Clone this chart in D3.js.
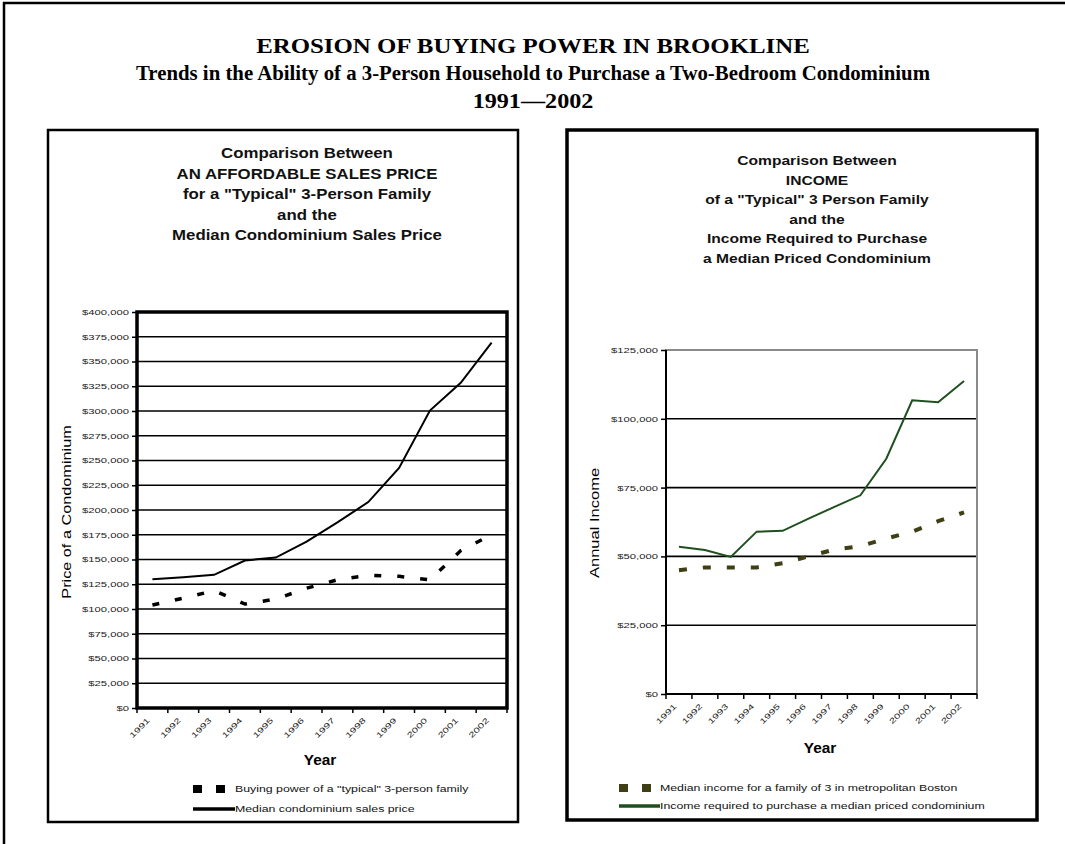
<!DOCTYPE html>
<html>
<head>
<meta charset="utf-8">
<script src="https://cdn.jsdelivr.net/npm/d3@7"></script>
<style>
  body { margin: 0; background: #fff; }
  svg { display: block; }
</style>
</head>
<body>
<svg width="1065" height="844"></svg>
<script>
const years = ["1991", "1992", "1993", "1994", "1995", "1996", "1997", "1998", "1999", "2000", "2001", "2002"]

// left chart: sales prices
const affordablePrice = [104000, 111000, 118500, 105000, 110000, 121000, 129500, 134000, 133000, 129500, 159000, 175000]
const medianCondoPrice = [130000, 132000, 134500, 149000, 152000, 168000, 187500, 208000, 242500, 300500, 328500, 369000]
const priceTicks = [0, 25000, 50000, 75000, 100000, 125000, 150000, 175000, 200000, 225000, 250000, 275000, 300000, 325000, 350000, 375000, 400000]

// right chart: incomes
const medianIncome = [45000, 46000, 46000, 46000, 47500, 50000, 52500, 53700, 56500, 59000, 62800, 66000]
const requiredIncome = [53500, 52300, 49800, 59000, 59300, 63700, 68000, 72200, 85500, 106700, 106000, 113700]
const incomeTicks = [0, 25000, 50000, 75000, 100000, 125000]

const titleLines = ["EROSION OF BUYING POWER IN BROOKLINE",
  "Trends in the Ability of a 3-Person Household to Purchase a Two-Bedroom Condominium",
  "1991\u20142002"]
const leftTitle = ["Comparison Between", "AN AFFORDABLE SALES PRICE", "for a \"Typical\" 3-Person Family", "and the", "Median Condominium Sales Price"]
const rightTitle = ["Comparison Between", "INCOME", "of a \"Typical\" 3 Person Family", "and the", "Income Required to Purchase", "a Median Priced Condominium"]

var svg = d3.select("svg")
var sans = "Liberation Sans, Arial, sans-serif"
var money = d => "$" + d3.format(",")(d)

// the scanned text is stretched sideways, so widen it
function widen(sel, k) {
  sel.each(function() {
    var w = this.getComputedTextLength()
    d3.select(this).attr("textLength", w * k).attr("lengthAdjust", "spacingAndGlyphs")
  })
}

// page frame
svg.append("line").attr("x1", 4).attr("x2", 4).attr("y1", 2).attr("y2", 844).attr("stroke", "#000").attr("stroke-width", 2.5)
svg.append("line").attr("x1", 3).attr("x2", 1065).attr("y1", 3).attr("y2", 3).attr("stroke", "#000").attr("stroke-width", 2.5)

var heads = svg.append("g").selectAll("text")
  .data(titleLines)
  .enter().append("text")
    .attr("x", 533)
    .attr("y", (d, i) => [53, 80, 108][i])
    .attr("text-anchor", "middle")
    .attr("font-family", "Liberation Serif, Times New Roman, serif")
    .attr("font-weight", "bold")
    .attr("font-size", (d, i) => [22, 20, 21][i])
    .text(d => d)
widen(heads.filter((d, i) => i == 0), 1.13)
widen(heads.filter((d, i) => i == 1), 1.04)
widen(heads.filter((d, i) => i == 2), 1.15)

function drawPanel(p) {
  var g = svg.append("g")

  g.append("rect")
    .attr("x", p.box[0]).attr("y", p.box[1])
    .attr("width", p.box[2] - p.box[0]).attr("height", p.box[3] - p.box[1])
    .attr("fill", "none").attr("stroke", "#000").attr("stroke-width", p.boxStroke)

  var title = g.append("g").selectAll("text")
    .data(p.title)
    .enter().append("text")
      .attr("x", p.titleX)
      .attr("y", (d, i) => p.titleY + i * p.titleStep)
      .attr("text-anchor", "middle")
      .attr("font-family", sans)
      .attr("font-weight", "bold")
      .attr("font-size", p.titleSize)
      .attr("fill", "#111")
      .text(d => d)
  widen(title, 1.2)

  var x = d3.scaleBand().domain(years).range([p.left, p.right])
  var y = d3.scaleLinear().domain([0, p.ticks[p.ticks.length - 1]]).range([p.bottom, p.top])

  g.append("g").selectAll("line")
    .data(p.ticks.slice(1, -1))
    .enter().append("line")
      .attr("x1", p.left).attr("x2", p.right)
      .attr("y1", d => y(d)).attr("y2", d => y(d))
      .attr("stroke", "#000").attr("stroke-width", 1.6)

  if (p.frame == "heavy") {
    g.append("rect")
      .attr("x", p.left).attr("y", p.top)
      .attr("width", p.right - p.left).attr("height", p.bottom - p.top)
      .attr("fill", "none").attr("stroke", "#000").attr("stroke-width", 3.5)
  } else {
    g.append("rect")
      .attr("x", p.left).attr("y", p.top)
      .attr("width", p.right - p.left).attr("height", p.bottom - p.top)
      .attr("fill", "none").attr("stroke", "#8a8a8a").attr("stroke-width", 2)
    g.append("path")
      .attr("d", "M" + p.left + "," + p.top + "V" + p.bottom + "H" + p.right)
      .attr("fill", "none").attr("stroke", "#000").attr("stroke-width", 2)
  }

  var ya = g.append("g")
    .attr("transform", "translate(" + p.left + ",0)")
    .call(d3.axisLeft(y).tickValues(p.ticks).tickSize(5).tickPadding(3).tickFormat(money))
  ya.select(".domain").remove()
  ya.selectAll("line").attr("stroke", "#000").attr("stroke-width", 1.5)
  ya.selectAll("text").attr("font-family", sans).attr("font-size", 7.5).attr("fill", "#222")
  widen(ya.selectAll("text"), 1.5)

  // x ticks sit on the category edges
  g.append("g").selectAll("line")
    .data(years.map(d => x(d)).concat([p.right]))
    .enter().append("line")
      .attr("x1", d => d).attr("x2", d => d)
      .attr("y1", p.bottom).attr("y2", p.bottom + 5)
      .attr("stroke", "#000").attr("stroke-width", 1.5)

  var xl = g.append("g").selectAll("text")
    .data(years)
    .enter().append("text")
      .attr("transform", d => "translate(" + (x(d) + x.bandwidth() / 2 - 4) + "," + (p.bottom + 11) + ") rotate(-45)")
      .attr("text-anchor", "end")
      .attr("dy", "0.35em")
      .attr("font-family", sans)
      .attr("font-size", 7.5)
      .attr("fill", "#222")
      .text(d => d)
  widen(xl, 1.5)

  var yearLabel = g.append("text")
    .attr("x", p.yearX).attr("y", p.yearY)
    .attr("text-anchor", "middle")
    .attr("font-family", sans).attr("font-weight", "bold").attr("font-size", 14)
    .text("Year")
  widen(yearLabel, 1.1)

  var yLabel = g.append("text")
    .attr("transform", "translate(" + p.yLabelX + "," + p.yLabelY + ") rotate(-90)")
    .attr("text-anchor", "middle")
    .attr("font-family", sans).attr("font-size", 13)
    .text(p.yLabel)
  widen(yLabel, p.yLabelWiden)

  var line = d3.line()
    .x((d, i) => x(years[i]) + x.bandwidth() / 2)
    .y(d => y(d))

  p.series.forEach(function(s) {
    g.append("path")
      .datum(s.values)
      .attr("d", line)
      .attr("fill", "none")
      .attr("stroke", s.color)
      .attr("stroke-width", s.dash ? s.width : 2)
      .attr("stroke-dasharray", s.dash || null)
  })

  var legend = g.append("g")
    .selectAll("g")
    .data(p.series)
    .enter().append("g")
      .attr("transform", (d, i) => "translate(" + p.legendX + "," + (p.legendY + i * p.legendStep) + ")")

  legend.append("line")
    .attr("x1", 0).attr("x2", d => d.dash ? 34 : p.legendText)
    .attr("stroke", d => d.color)
    .attr("stroke-width", d => d.dash ? 8 : 3.5)
    .attr("stroke-dasharray", d => d.dash ? "9,14" : null)

  var lt = legend.append("text")
    .attr("x", p.legendText)
    .attr("dy", "0.35em")
    .attr("font-family", sans)
    .attr("font-size", 8.5)
    .attr("fill", "#111")
    .text(d => d.name)
  widen(lt, 1.45)
}

drawPanel({
  box: [48, 130, 518, 822], boxStroke: 2.5,
  title: leftTitle, titleX: 307, titleY: 158, titleStep: 20.5, titleSize: 14,
  left: 137, right: 507, top: 312, bottom: 708,
  ticks: priceTicks, frame: "heavy",
  yearX: 320, yearY: 765,
  yLabel: "Price of a Condominium", yLabelX: 71, yLabelY: 512, yLabelWiden: 1.25,
  legendX: 193, legendY: 789, legendStep: 20, legendText: 42,
  series: [
    { name: "Buying power of a \"typical\" 3-person family", values: affordablePrice, color: "#000", dash: "7,16", width: 3.5 },
    { name: "Median condominium sales price", values: medianCondoPrice, color: "#000" }
  ]
})

drawPanel({
  box: [567, 130, 1037, 820], boxStroke: 3.5,
  title: rightTitle, titleX: 817, titleY: 165, titleStep: 19.5, titleSize: 13,
  left: 666, right: 977, top: 350, bottom: 694,
  ticks: incomeTicks, frame: "light",
  yearX: 820, yearY: 753,
  yLabel: "Annual Income", yLabelX: 599, yLabelY: 523, yLabelWiden: 1.27,
  legendX: 619, legendY: 788, legendStep: 18, legendText: 41,
  series: [
    { name: "Median income for a family of 3 in metropolitan Boston", values: medianIncome, color: "#3f3f16", dash: "8,16", width: 4 },
    { name: "Income required to purchase a median priced condominium", values: requiredIncome, color: "#1f4f1f" }
  ]
})
</script>
</body>
</html>
